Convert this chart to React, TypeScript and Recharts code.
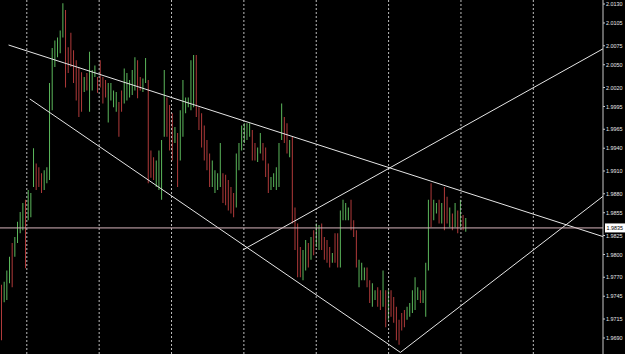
import { Bar, Cell, ComposedChart, ReferenceLine, XAxis, YAxis } from "recharts";

const barHigh = [
  1.976, 1.9764, 1.9779, 1.9797, 1.9815, 1.9823, 1.9843, 1.9856, 1.9868, 1.9872,
  1.9885, 1.9881, 1.994, 1.992, 1.9915, 1.9907, 1.9911, 1.9915, 2.0026, 2.0072,
  2.0082, 2.0086, 2.0095, 2.0131, 2.0122, 2.0073, 2.0092, 2.0069, 2.0056, 2.0047,
  2.004, 2.0034, 2.0039, 2.0067, 2.0043, 2.0049, 2.0034, 2.0056, 2.0034, 2.003,
  2.0026, 2.0026, 2.0016, 2.0014, 2.0001, 2.0016, 2.0045, 2.0039, 2.003, 2.0043,
  2.006, 2.0056, 2.0034, 2.0032, 2.0059, 2.003, 1.9937, 1.9928, 1.9924, 1.9937,
  1.9951, 2.0043, 2.0007, 1.9997, 1.9986, 1.9968, 1.996, 1.999, 2.003, 2.0007,
  2.0007, 2.0056, 2.0063, 2.0063, 1.9994, 1.9986, 1.997, 1.9951, 1.9933, 1.9924,
  1.9911, 1.9907, 1.9947, 1.9907, 1.9905, 1.9898, 1.9889, 1.9881, 1.9933, 1.9947,
  1.997, 1.9973, 1.9973, 1.9973, 1.9964, 1.9947, 1.9941, 1.996, 1.9947, 1.9941,
  1.992, 1.9902, 1.9907, 1.9915, 1.9947, 1.9999, 1.9981, 1.9973, 1.9951, 1.9955,
  1.9862, 1.9841, 1.981, 1.9806, 1.9819, 1.9815, 1.9823, 1.9832, 1.9841, 1.9839,
  1.9841, 1.9823, 1.9819, 1.981, 1.9802, 1.9828, 1.9828, 1.9858, 1.9872, 1.9868,
  1.9862, 1.9872, 1.9845, 1.9832, 1.9793, 1.9789, 1.9783, 1.9783, 1.9766, 1.9762,
  1.9753, 1.9757, 1.9753, 1.9779, 1.9753, 1.9753, 1.9753, 1.9744, 1.9731, 1.9714,
  1.9723, 1.9727, 1.9731, 1.9736, 1.9753, 1.977, 1.9757, 1.9753, 1.9753, 1.9789,
  1.9872, 1.9894, 1.9872, 1.9868, 1.9872, 1.9868, 1.9889, 1.9876, 1.9862, 1.9854,
  1.9868, 1.9858, 1.9872, 1.9852, 1.9848,
];
const barLow = [
  1.9687, 1.9737, 1.974, 1.9762, 1.9757, 1.9797, 1.9815, 1.9828, 1.9832, 1.9782,
  1.9845, 1.9849, 1.9889, 1.9885, 1.9889, 1.9881, 1.9885, 1.9894, 1.9898, 1.999,
  2.0047, 2.006, 2.0065, 2.0086, 2.002, 2.0039, 2.0047, 2.0026, 2.0003, 1.9981,
  1.9988, 2.0014, 2.0016, 1.9988, 2.0016, 2.0034, 2.0013, 2.002, 1.9999, 2.0007,
  1.9974, 2.0003, 1.9994, 1.9988, 1.9955, 1.9988, 1.9999, 2.0003, 2.0007, 2.001,
  2.0016, 2.0006, 2.0016, 2.0014, 2.0026, 1.9894, 1.9901, 1.9898, 1.9889, 1.9885,
  1.9872, 1.9955, 1.9955, 1.9937, 1.9924, 1.9947, 1.9889, 1.9924, 1.9955, 1.9986,
  1.9994, 1.999, 1.9994, 1.9981, 1.9964, 1.9941, 1.9924, 1.9911, 1.9889, 1.9889,
  1.9881, 1.9885, 1.9889, 1.9868, 1.9865, 1.9858, 1.9854, 1.9849, 1.9862, 1.9911,
  1.9937, 1.9947, 1.9951, 1.9955, 1.9924, 1.9924, 1.9922, 1.9933, 1.9924, 1.9902,
  1.9881, 1.9885, 1.9889, 1.9885, 1.9889, 1.9951, 1.9947, 1.9933, 1.9928, 1.9841,
  1.9806, 1.977, 1.977, 1.9766, 1.9779, 1.9783, 1.9793, 1.9799, 1.981, 1.9806,
  1.9806, 1.9793, 1.9789, 1.9783, 1.9789, 1.9789, 1.9783, 1.9783, 1.9845, 1.9845,
  1.9845, 1.9832, 1.9823, 1.9783, 1.9757, 1.9766, 1.9766, 1.9757, 1.9736, 1.9731,
  1.974, 1.9731, 1.9727, 1.9731, 1.9704, 1.9714, 1.9718, 1.971, 1.9687, 1.9681,
  1.97, 1.9704, 1.9714, 1.9718, 1.9723, 1.9727, 1.974, 1.9736, 1.9736, 1.9718,
  1.9779, 1.9836, 1.9845, 1.9854, 1.9841, 1.9841, 1.9832, 1.9841, 1.9836, 1.9832,
  1.9836, 1.9828, 1.9836, 1.9832, 1.983,
];
// g = up bar, r = down bar
const barDir =
  "rgggrggggr" + "gggrrrgggg" + "ggggrrrrrr" + "rgrgggrrrr" + "ggggrrgggg" +
  "grrggrrrgg" + "ggrrrgrggg" + "gggrrrrrrg" + "gggrrrrrgg" + "ggggrrggrr" +
  "rgggggrrgr" + "rrrggrgrgg" + "rrrrgrrggg" + "grrrgggrrg" + "grrgrgrrrr" +
  "rrgggggrgg" + "grggrgrrgr" + "grgrg";

const slotCount = 226; // bars plus empty chart shift on the right
const priceTicks = [
  2.013, 2.0105, 2.0075, 2.005, 2.002, 1.9995, 1.9965, 1.994, 1.991, 1.988,
  1.9855, 1.9825, 1.98, 1.977, 1.9745, 1.9715, 1.969,
];
const bidPrice = 1.9835;
const periodStarts = [10, 37, 64, 91, 118, 145, 172, 199];
const trendLines = [
  [[3.2, 2.0076], [225.5, 1.9823]],
  [[11.1, 2.0005], [149.4, 1.9671]],
  [[90.6, 1.9806], [225.5, 2.0072]],
  [[149.4, 1.9671], [225.5, 1.9878]],
];

const UP = "#5cb85c";
const DOWN = "#b03a3a";
const FONT = "'Liberation Sans', Arial, sans-serif";

const data = Array.from({ length: slotCount }, (_, i) => ({
  slot: i,
  range: i < barHigh.length ? [barLow[i], barHigh[i]] : null,
}));

// price labels kept small to fit the narrow scale strip
function PriceTick(props: any) {
  const { x, y, payload } = props;
  return (
    <text
      x={x - 1}
      y={y + 2.2}
      fontSize={6}
      fontFamily={FONT}
      fill="#e8e8e8"
      textLength={16.5}
      lengthAdjust="spacingAndGlyphs"
    >
      {Number(payload.value).toFixed(4)}
    </text>
  );
}

function BidTag(props: any) {
  const { viewBox } = props;
  if (!viewBox) return null;
  const x = viewBox.x + viewBox.width;
  const y = viewBox.y;
  return (
    <g>
      <rect x={x + 2} y={y - 4.5} width={20} height={9} fill="#ffffff" />
      <text
        x={x + 3.5}
        y={y + 2.2}
        fontSize={6}
        fontFamily={FONT}
        fill="#000"
        textLength={16.5}
        lengthAdjust="spacingAndGlyphs"
      >
        {bidPrice.toFixed(4)}
      </text>
    </g>
  );
}

export default function App() {
  return (
    <div
      style={{
        position: "absolute",
        left: 0,
        top: 0,
        width: 625,
        height: 354,
        background: "#000",
      }}
    >
      <ComposedChart
        width={625}
        height={354}
        data={data}
        margin={{ top: 0, right: 0, bottom: 0, left: 0 }}
      >
        <XAxis dataKey="slot" type="category" hide />
        <XAxis xAxisId="t" type="number" domain={[-0.5, slotCount - 0.5]} hide allowDataOverflow />
        <YAxis
          orientation="right"
          width={22}
          domain={[1.96689, 2.01353]}
          ticks={priceTicks}
          interval={0}
          allowDataOverflow
          tick={<PriceTick />}
          tickSize={2}
          tickMargin={2}
          axisLine={{ stroke: "#c8c8c8" }}
          tickLine={{ stroke: "#c8c8c8" }}
        />
        {periodStarts.map((p) => (
          <ReferenceLine
            key={p}
            xAxisId="t"
            x={p}
            stroke="#bdbdbd"
            strokeDasharray="2 2"
          />
        ))}
        <Bar dataKey="range" barSize={1} isAnimationActive={false}>
          {data.map((d) => (
            <Cell key={d.slot} fill={barDir[d.slot] === "g" ? UP : DOWN} />
          ))}
        </Bar>
        {trendLines.map((l, k) => (
          <ReferenceLine
            key={k}
            xAxisId="t"
            segment={[
              { x: l[0][0], y: l[0][1] },
              { x: l[1][0], y: l[1][1] },
            ]}
            stroke="#e6e6e6"
            strokeWidth={1}
            ifOverflow="hidden"
          />
        ))}
        <ReferenceLine
          xAxisId="t"
          y={bidPrice}
          stroke="#d8b4bc"
          strokeWidth={1}
          label={<BidTag />}
        />
      </ComposedChart>
    </div>
  );
}
